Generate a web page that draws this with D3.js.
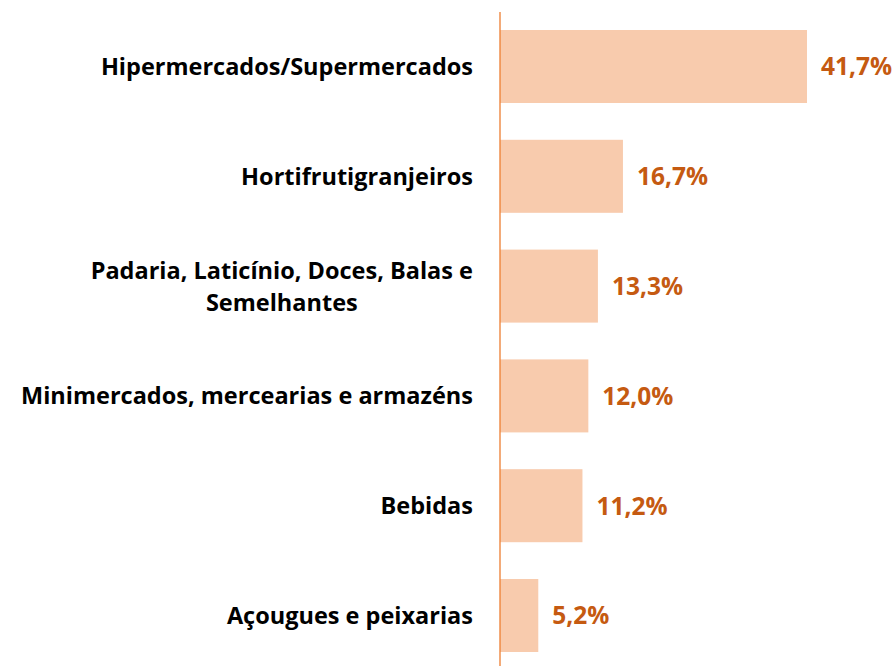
<!DOCTYPE html>
<html>
<head>
<meta charset="utf-8">
<script src="https://cdn.jsdelivr.net/npm/d3@7"></script>
<style>
  html, body { margin: 0; padding: 0; background: #fff; }
  svg { display: block; font-family: "Open Sans", Lato, sans-serif; }
</style>
</head>
<body>
<svg id="chart"></svg>
<script>
const categories = [
  ['Hipermercados/Supermercados'],
  ['Hortifrutigranjeiros'],
  ['Padaria, Laticínio, Doces, Balas e', 'Semelhantes'],
  ['Minimercados, mercearias e armazéns'],
  ['Bebidas'],
  ['Açougues e peixarias']
];
const values = [41.7, 16.7, 13.3, 12.0, 11.2, 5.2];
const valueLabels = ['41,7%', '16,7%', '13,3%', '12,0%', '11,2%', '5,2%'];

const width = 896;
const height = 666;
const axisX = 500;
const labelSize = 23.5;
const valueSize = 24.5;

const svg = d3.select('#chart')
    .attr('width', width)
    .attr('height', height);

const xScale = d3.scaleLinear()
  .domain([0, 41.7])
  .range([axisX, 807]);

const yScale = d3.scaleBand()
  .domain(d3.range(values.length))
  .range([11.6, 670.4])
  .paddingInner(0.335)
  .paddingOuter(0.1675);

svg.append('g')
  .selectAll('rect')
  .data(values)
  .join('rect')
    .attr('x', xScale(0))
    .attr('y', (d, i) => yScale(i))
    .attr('width', d => xScale(d) - xScale(0))
    .attr('height', yScale.bandwidth())
    .attr('fill', '#F8CBAD');

// axis line
svg.append('line')
  .attr('x1', axisX).attr('x2', axisX)
  .attr('y1', 12).attr('y2', height)
  .attr('stroke', '#ED7D31')
  .attr('stroke-width', 1.3);

// value labels
svg.append('g')
  .selectAll('text')
  .data(values)
  .join('text')
    .attr('x', d => xScale(d) + 14)
    .attr('y', (d, i) => yScale(i) + yScale.bandwidth() / 2)
    .attr('dy', '0.36em')
    .attr('fill', '#C55A11')
    .attr('font-weight', 700)
    .attr('font-size', valueSize)
    .text((d, i) => valueLabels[i]);

// category labels (wrapped ones are centred under the first line)
const labelRight = 473;
const lineH = 32;
const labels = svg.append('g')
  .selectAll('g')
  .data(categories)
  .join('g')
    .attr('transform', (d, i) => `translate(0,${yScale(i) + yScale.bandwidth() / 2})`);

labels.each(function(lines) {
  const g = d3.select(this);
  const first = g.append('text')
    .attr('x', labelRight)
    .attr('y', -(lines.length - 1) * lineH / 2)
    .attr('dy', '0.36em')
    .attr('text-anchor', 'end')
    .attr('font-weight', 700)
    .attr('font-size', labelSize)
    .attr('fill', '#000')
    .text(lines[0]);
  const w = first.node().getComputedTextLength();
  lines.slice(1).forEach((line, k) => {
    g.append('text')
      .attr('x', labelRight - w / 2)
      .attr('y', -(lines.length - 1) * lineH / 2 + (k + 1) * lineH)
      .attr('dy', '0.36em')
      .attr('text-anchor', 'middle')
      .attr('font-weight', 700)
      .attr('font-size', labelSize)
      .attr('fill', '#000')
      .text(line);
  });
});
</script>
</body>
</html>
